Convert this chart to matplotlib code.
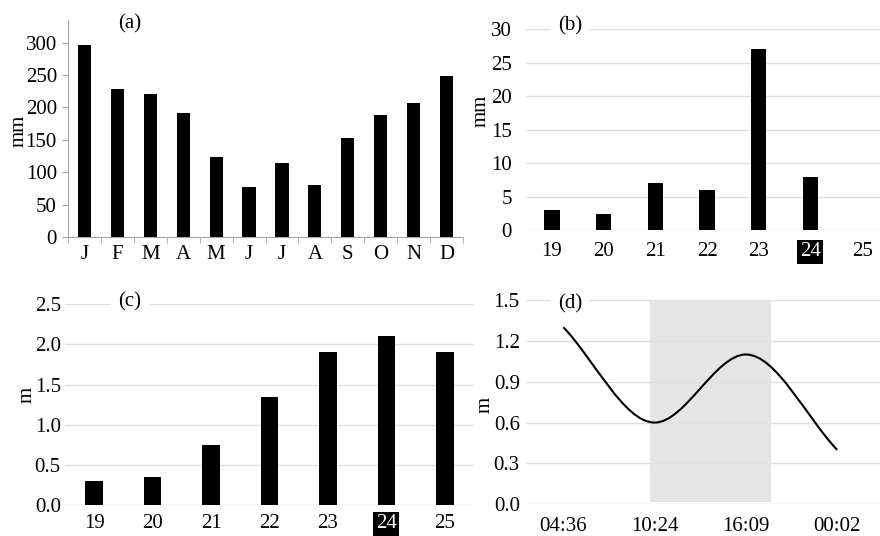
import matplotlib
matplotlib.use("Agg")
import matplotlib.pyplot as plt
from matplotlib.path import Path
from matplotlib.patches import PathPatch
import numpy as np

# ---------------- data ----------------
months = ["J", "F", "M", "A", "M", "J", "J", "A", "S", "O", "N", "D"]
monthly_rain = [297, 228, 221, 191, 124, 77, 115, 80, 153, 188, 207, 248]

days = ["19", "20", "21", "22", "23", "24", "25"]
daily_rain = [3, 2.5, 7, 6, 27, 8, 0]
wave_height = [0.30, 0.35, 0.75, 1.35, 1.90, 2.10, 1.90]
highlight_day = "24"

tide_times = ["04:36", "10:24", "16:09", "00:02"]
tide_level = [1.3, 0.6, 1.1, 0.4]
shade_start, shade_end = 0.95, 2.28
shade_low, shade_high = 0.02, 1.5

# ---------------- style ----------------
plt.rcParams['font.family'] = ['Liberation Serif', 'DejaVu Serif']
plt.rcParams['font.size'] = 15
W, H = 880, 536
fig = plt.figure(figsize=(W / 100, H / 100), dpi=100)

GRID = '#e0e0e0'
SPINE = '#a6a6a6'


def px_axes(l, r, t, b):
    return fig.add_axes([l / W, (H - b) / H, (r - l) / W, (b - t) / H])


def ylabel(ax, text, x, y):
    ax.set_ylabel(text, va='center', ha='center')
    ax.yaxis.set_label_coords(x / W, 1 - y / H, transform=fig.transFigure)


def panel_label(text, x, y):
    fig.text(x / W, 1 - y / H, text, ha='center', va='center', zorder=10,
             bbox=dict(boxstyle='square,pad=0.35', fc='white', ec='none'))


def grid_axes(ax):
    for s in ax.spines.values():
        s.set_visible(False)
    ax.yaxis.grid(True, color=GRID, lw=1)
    ax.set_axisbelow(True)
    ax.tick_params(axis='both', length=0)


def highlight(ax, label):
    for t in ax.get_xticklabels():
        if t.get_text() == label:
            t.set_color('white')
            t.set_bbox(dict(boxstyle='square,pad=0.12', fc='black', ec='none'))


# ---------------- (a) ----------------
axa = px_axes(68, 463, 20, 237)
xa = np.arange(len(months))
axa.bar(xa, monthly_rain, width=0.4, color='black', zorder=3)
axa.set_xlim(-0.5, len(months) - 0.5)
axa.set_ylim(0, 335)
axa.set_yticks(np.arange(0, 301, 50))
axa.set_xticks(xa)
axa.set_xticklabels(months)
axa.set_xticks(np.arange(-0.5, len(months), 1), minor=True)
for s in ['top', 'right']:
    axa.spines[s].set_visible(False)
for s in ['left', 'bottom']:
    axa.spines[s].set_color(SPINE)
axa.tick_params(axis='y', length=4, color=SPINE, pad=4)
axa.tick_params(axis='x', which='major', length=0, pad=5.5)
axa.tick_params(axis='x', which='minor', length=4, color=SPINE)
ylabel(axa, 'mm', 19, 131)
panel_label('(a)', 130, 24)

# ---------------- (b) ----------------
axb = px_axes(526, 888, 29.3, 230.3)
xb = np.arange(len(days))
axb.bar(xb, daily_rain, width=0.3, color='black', zorder=3)
axb.set_xlim(-0.5, len(days) - 0.5)
axb.set_ylim(0, 30)
axb.set_yticks(np.arange(0, 31, 5))
axb.set_xticks(xb)
axb.set_xticklabels(days)
grid_axes(axb)
axb.tick_params(axis='y', pad=10)
axb.tick_params(axis='x', pad=8.5)
highlight(axb, highlight_day)
ylabel(axb, 'mm', 481, 111)
panel_label('(b)', 570, 26)

# ---------------- (c) ----------------
axc = px_axes(65, 474, 304.3, 505)
xc = np.arange(len(days))
axc.bar(xc, wave_height, width=0.3, color='black', zorder=3)
axc.set_xlim(-0.5, len(days) - 0.5)
axc.set_ylim(0, 2.5)
axc.set_yticks(np.arange(0, 2.51, 0.5))
axc.set_yticklabels([f"{v:.1f}" for v in np.arange(0, 2.51, 0.5)])
axc.set_xticks(xc)
axc.set_xticklabels(days)
grid_axes(axc)
axc.tick_params(axis='y', pad=3)
axc.tick_params(axis='x', pad=6.5)
highlight(axc, highlight_day)
ylabel(axc, 'm', 27, 395)
panel_label('(c)', 130, 302)

# ---------------- (d) ----------------
axd = px_axes(526, 880, 300, 504.3)
xd = np.arange(len(tide_times))
axd.set_xlim(-0.41, 3.47)
axd.set_ylim(0, 1.5)
axd.set_yticks(np.arange(0, 1.51, 0.3))
axd.set_yticklabels([f"{v:.1f}" for v in np.arange(0, 1.51, 0.3)])
axd.set_xticks(xd)
axd.set_xticklabels(tide_times)
grid_axes(axd)
axd.tick_params(axis='y', pad=4.5)
axd.tick_params(axis='x', pad=9.5)
axd.fill_between([shade_start, shade_end], shade_low, shade_high,
                 color='#808080', alpha=0.2, lw=0, zorder=0.5)

# smooth tide curve: cubic Bezier segments through the tide points
verts = [(xd[0], tide_level[0])]
codes = [Path.MOVETO]
n = len(xd)
for i in range(n - 1):
    x0, y0 = xd[i], tide_level[i]
    x1, y1 = xd[i + 1], tide_level[i + 1]
    dx = (x1 - x0) / 3
    slope = (y1 - y0) / (x1 - x0)
    # horizontal tangents at interior extremes, segment slope at ends
    c1y = y0 + slope * dx if i == 0 else y0
    c2y = y1 - slope * dx if i == n - 2 else y1
    verts += [(x0 + dx, c1y), (x1 - dx, c2y), (x1, y1)]
    codes += [Path.CURVE4] * 3
axd.add_patch(PathPatch(Path(verts, codes), fill=False, ec='black', lw=1.5, zorder=3))
ylabel(axd, 'm', 485, 405)
panel_label('(d)', 570, 304)

fig.savefig('out.png', dpi=100)
